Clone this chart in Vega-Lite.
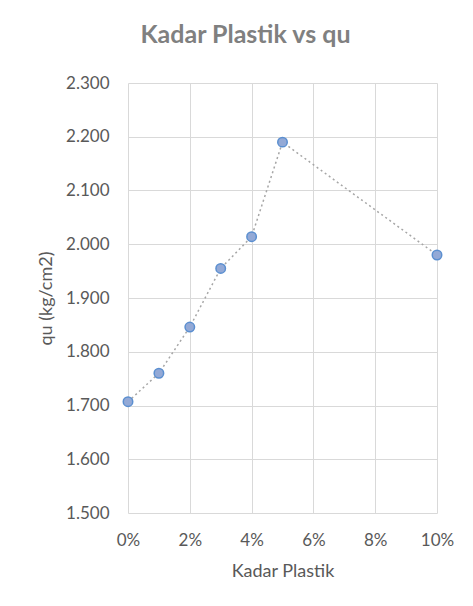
{
  "$schema": "https://vega.github.io/schema/vega-lite/v6.json",
  "width": 309,
  "height": 430,
  "autosize": {"type": "none"},
  "padding": {"left": 128, "top": 83, "right": 36, "bottom": 93},
  "background": "white",
  "title": {
    "text": "Kadar Plastik vs qu",
    "font": "Lato",
    "fontSize": 25,
    "fontWeight": "bold",
    "color": "#808080",
    "anchor": "middle",
    "offset": 26,
    "dx": -37
  },
  "config": {
    "view": {"stroke": null},
    "axis": {
      "labelFont": "Lato",
      "titleFont": "Lato",
      "labelFontSize": 17,
      "titleFontSize": 18,
      "labelColor": "#595959",
      "titleColor": "#595959",
      "titleFontWeight": "normal",
      "gridColor": "#d9d9d9",
      "gridWidth": 1,
      "domain": false,
      "ticks": false,
      "labelFlush": false
    }
  },
  "data": {
    "values": [
      {"kadar": 0.00, "qu": 1.707},
      {"kadar": 0.01, "qu": 1.760},
      {"kadar": 0.02, "qu": 1.846},
      {"kadar": 0.03, "qu": 1.955},
      {"kadar": 0.04, "qu": 2.014},
      {"kadar": 0.05, "qu": 2.190},
      {"kadar": 0.10, "qu": 1.980}
    ]
  },
  "encoding": {
    "x": {
      "field": "kadar",
      "type": "quantitative",
      "scale": {"domain": [0, 0.1], "nice": false, "zero": false},
      "axis": {
        "title": "Kadar Plastik",
        "format": ".0%",
        "values": [0, 0.02, 0.04, 0.06, 0.08, 0.1],
        "labelPadding": 19,
        "titlePadding": 14
      }
    },
    "y": {
      "field": "qu",
      "type": "quantitative",
      "scale": {"domain": [1.5, 2.3], "nice": false, "zero": false},
      "axis": {
        "title": "qu (kg/cm2)",
        "format": ".3f",
        "values": [1.5, 1.6, 1.7, 1.8, 1.9, 2.0, 2.1, 2.2, 2.3],
        "labelPadding": 19,
        "titlePadding": 10
      }
    }
  },
  "layer": [
    {
      "mark": {
        "type": "line",
        "color": "#a6a6a6",
        "strokeWidth": 1.5,
        "strokeDash": [2, 3]
      }
    },
    {
      "mark": {
        "type": "point",
        "shape": "circle",
        "filled": true,
        "size": 90,
        "fill": "#93a9d6",
        "stroke": "#5b8fd0",
        "strokeWidth": 1.5,
        "opacity": 1
      }
    }
  ]
}
